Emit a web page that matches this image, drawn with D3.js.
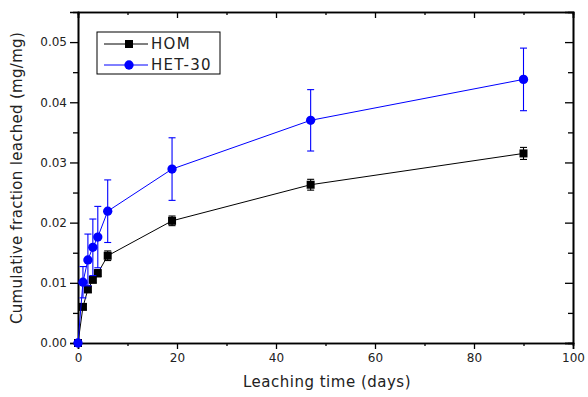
<!DOCTYPE html>
<meta charset="utf-8">
<script src="https://d3js.org/d3.v7.min.js"></script>
<style>
  body { margin: 0; background: #fff; }
  text { font-family: "DejaVu Sans", Verdana, sans-serif; fill: #222; }
</style>
<div id="chart"></div>
<script>

// leaching time (days)
var days = [0, 1, 2, 3, 4, 6, 19, 47, 90];

var homValues = [0, 0.0060, 0.0089, 0.0105, 0.0116, 0.0145, 0.0203, 0.0263, 0.0315];
var homErrors = [0, 0.0004, 0.0005, 0.0005, 0.0006, 0.0008, 0.0008, 0.0009, 0.0010];

var hetValues = [0, 0.0101, 0.0138, 0.0159, 0.0176, 0.0219, 0.0289, 0.0370, 0.0438];
var hetErrors = [0, 0.0026, 0.0043, 0.0047, 0.0051, 0.0052, 0.0052, 0.0051, 0.0052];

var xTicks = [0, 20, 40, 60, 80, 100];
var yTicks = [0, 0.01, 0.02, 0.03, 0.04, 0.05];

var series = [
  { name: "HOM", values: homValues, errors: homErrors, color: "#000000", symbol: "square" },
  { name: "HET-30", values: hetValues, errors: hetErrors, color: "#0000ff", symbol: "circle" }
];

var W = 588, H = 397;
var margin = {top: 12, right: 13, bottom: 54, left: 78};
var width = W - margin.left - margin.right,
    height = H - margin.top - margin.bottom;

var svg = d3.select("#chart").append("svg")
  .attr("width", W)
  .attr("height", H)
  .append("g")
  .attr("transform", "translate(" + margin.left + "," + margin.top + ")");

var x = d3.scaleLinear().domain([0, 100]).range([0, width - 2]);
var y = d3.scaleLinear().domain([0, 0.055]).range([height, 0]);

var minorX = d3.range(10, 100, 20);
var minorY = d3.range(0.005, 0.055, 0.01);

// bottom axis
svg.append("g")
  .attr("transform", "translate(0," + height + ")")
  .call(d3.axisBottom(x).tickValues(xTicks).tickSize(6).tickPadding(4).tickFormat(d3.format("d")));
svg.append("g")
  .attr("transform", "translate(0," + height + ")")
  .call(d3.axisBottom(x).tickValues(minorX).tickSize(3).tickFormat(""));

// left axis
svg.append("g")
  .call(d3.axisLeft(y).tickValues(yTicks).tickSize(8).tickPadding(3).tickFormat(d3.format(".2f")));
svg.append("g")
  .call(d3.axisLeft(y).tickValues(minorY).tickSize(5).tickFormat(""));

// top and right mirrored axes, ticks inward
svg.append("g")
  .call(d3.axisBottom(x).tickValues(xTicks).tickSize(6).tickFormat(""));
svg.append("g")
  .call(d3.axisBottom(x).tickValues(minorX).tickSize(3).tickFormat(""));
svg.append("g")
  .attr("transform", "translate(" + (width - 2) + ",0)")
  .call(d3.axisLeft(y).tickValues(yTicks).tickSize(8).tickFormat(""));
svg.append("g")
  .attr("transform", "translate(" + (width - 2) + ",0)")
  .call(d3.axisLeft(y).tickValues(minorY).tickSize(5).tickFormat(""));

svg.selectAll(".domain").attr("stroke", "#000").attr("stroke-width", 1.6);
svg.selectAll(".tick line").attr("stroke", "#000").attr("stroke-width", 1.3);
svg.selectAll(".tick text")
  .style("font-size", "12px")
  .style("font-family", "'DejaVu Sans', Verdana, sans-serif")
  .attr("fill", "#333");

// axis titles
svg.append("text")
  .attr("x", 249)
  .attr("y", height + 44)
  .attr("text-anchor", "middle")
  .style("font-size", "15px")
  .style("letter-spacing", "0.5px")
  .text("Leaching time (days)");

svg.append("text")
  .attr("transform", "rotate(-90)")
  .attr("x", -166)
  .attr("y", -56)
  .attr("text-anchor", "middle")
  .style("font-size", "15px")
  .style("letter-spacing", "0.3px")
  .text("Cumulative fraction leached (mg/mg)");

// series
series.forEach(function(s) {
  var pts = days.map(function(d, i) { return {x: d, y: s.values[i], e: s.errors[i]}; });

  var line = d3.line()
    .x(function(d) { return x(d.x); })
    .y(function(d) { return y(d.y); });

  svg.append("path")
    .datum(pts)
    .attr("fill", "none")
    .attr("stroke", s.color)
    .attr("stroke-width", 1)
    .attr("d", line);

  var eb = svg.append("g").selectAll("g")
    .data(pts.filter(function(d) { return d.e > 0; }))
    .enter().append("g")
    .attr("stroke", s.color)
    .attr("stroke-width", 1.1);
  eb.append("line")
    .attr("x1", function(d) { return x(d.x); })
    .attr("x2", function(d) { return x(d.x); })
    .attr("y1", function(d) { return y(d.y - d.e); })
    .attr("y2", function(d) { return y(d.y + d.e); });
  eb.append("line")
    .attr("x1", function(d) { return x(d.x) - 3.5; })
    .attr("x2", function(d) { return x(d.x) + 3.5; })
    .attr("y1", function(d) { return y(d.y + d.e); })
    .attr("y2", function(d) { return y(d.y + d.e); });
  eb.append("line")
    .attr("x1", function(d) { return x(d.x) - 3.5; })
    .attr("x2", function(d) { return x(d.x) + 3.5; })
    .attr("y1", function(d) { return y(d.y - d.e); })
    .attr("y2", function(d) { return y(d.y - d.e); });

  var sym = d3.symbol()
    .type(s.symbol == "square" ? d3.symbolSquare : d3.symbolCircle)
    .size(s.symbol == "square" ? 64 : 68);

  svg.append("g").selectAll("path")
    .data(pts)
    .enter().append("path")
    .attr("transform", function(d) { return "translate(" + x(d.x) + "," + y(d.y) + ")"; })
    .attr("d", sym)
    .attr("fill", s.color);
});

// legend
var legend = svg.append("g")
  .attr("transform", "translate(19,20)");

legend.append("rect")
  .attr("width", 123)
  .attr("height", 42)
  .attr("fill", "#fff")
  .attr("stroke", "#000")
  .attr("stroke-width", 1);

var item = legend.selectAll(".item")
  .data(series)
  .enter().append("g")
  .attr("transform", function(d, i) { return "translate(0," + (12 + i * 21) + ")"; });

item.append("line")
  .attr("x1", 7)
  .attr("x2", 51)
  .attr("stroke", function(d) { return d.color; })
  .attr("stroke-width", 1);

item.append("path")
  .attr("transform", "translate(32,0)")
  .attr("d", function(d) {
    return d3.symbol().type(d.symbol == "square" ? d3.symbolSquare : d3.symbolCircle)
      .size(d.symbol == "square" ? 64 : 68)();
  })
  .attr("fill", function(d) { return d.color; });

item.append("text")
  .attr("x", 54)
  .attr("dy", "0.36em")
  .style("font-size", "15px")
  .style("letter-spacing", "1.3px")
  .text(function(d) { return d.name; });

</script>
